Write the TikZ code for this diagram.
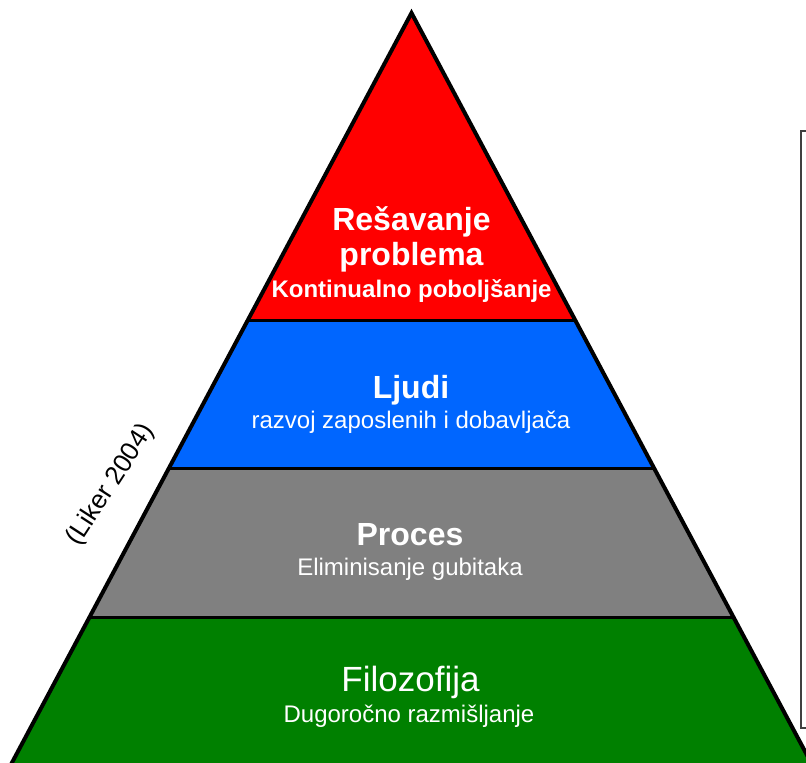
\documentclass[tikz,border=0pt]{standalone}
\usepackage{fontspec}
\setmainfont{Liberation Sans}
\begin{document}
\begin{tikzpicture}[x=1pt,y=-1pt,
  titletext/.style={text=white,font=\bfseries\fontsize{32}{36}\selectfont,anchor=base,inner sep=0pt},
  subtext/.style={text=white,font=\fontsize{24}{28}\selectfont,anchor=base,inner sep=0pt},
  boldsub/.style={text=white,font=\bfseries\fontsize{24}{28}\selectfont,anchor=base,inner sep=0pt},
  bigtext/.style={text=white,font=\fontsize{35}{40}\selectfont,anchor=base,inner sep=0pt},
  divider/.style={line width=3pt},
  outline/.style={line width=4pt,line join=miter}]
\definecolor{tierred}{RGB}{255,0,0}
\definecolor{tierblue}{RGB}{0,102,255}
\definecolor{tiergray}{RGB}{128,128,128}
\definecolor{tiergreen}{RGB}{0,128,0}
\useasboundingbox (0,0) rectangle (806,763);
\clip (0,0) rectangle (806,763);

% corner points of the pyramid and its tiers
\coordinate (apex) at (411.5,13);
\coordinate (l1) at (247.9,320); \coordinate (r1) at (575.1,320);
\coordinate (l2) at (169.0,468); \coordinate (r2) at (654.0,468);
\coordinate (l3) at (89.6,617);  \coordinate (r3) at (733.4,617);
\coordinate (l4) at (-2.6,790);  \coordinate (r4) at (825.6,790);

% frame at the right edge
\draw[black!75,line width=1.5pt] (801,131) rectangle (850,728);

% tiers
\fill[tierred]   (apex) -- (r1) -- (l1) -- cycle;
\fill[tierblue]  (l1) -- (r1) -- (r2) -- (l2) -- cycle;
\fill[tiergray]  (l2) -- (r2) -- (r3) -- (l3) -- cycle;
\fill[tiergreen] (l3) -- (r3) -- (r4) -- (l4) -- cycle;

\draw[divider] (l1) -- (r1);
\draw[divider] (l2) -- (r2);
\draw[divider] (l3) -- (r3);
\draw[outline] (l4) -- (apex) -- (r4);

% labels
\node[titletext] (t1a) at (411.5,230) {Rešavanje};
\node[titletext] (t1b) at (411.5,265) {problema};
\node[boldsub]   (t1c) at (411.5,297) {Kontinualno poboljšanje};
\node[titletext] (t2a) at (411,398) {Ljudi};
\node[subtext]   (t2b) at (411,428) {razvoj zaposlenih i dobavljača};
\node[titletext] (t3a) at (410,545) {Proces};
\node[subtext]   (t3b) at (410,575) {Eliminisanje gubitaka};
\node[bigtext]   (t4a) at (410.5,691) {Filozofija};
\node[subtext]   (t4b) at (409,722) {Dugoročno razmišljanje};

\node[font=\fontsize{26}{30}\selectfont,rotate=57,inner sep=0pt] (src) at (111,485) {(Liker 2004)};
\end{tikzpicture}
\end{document}
